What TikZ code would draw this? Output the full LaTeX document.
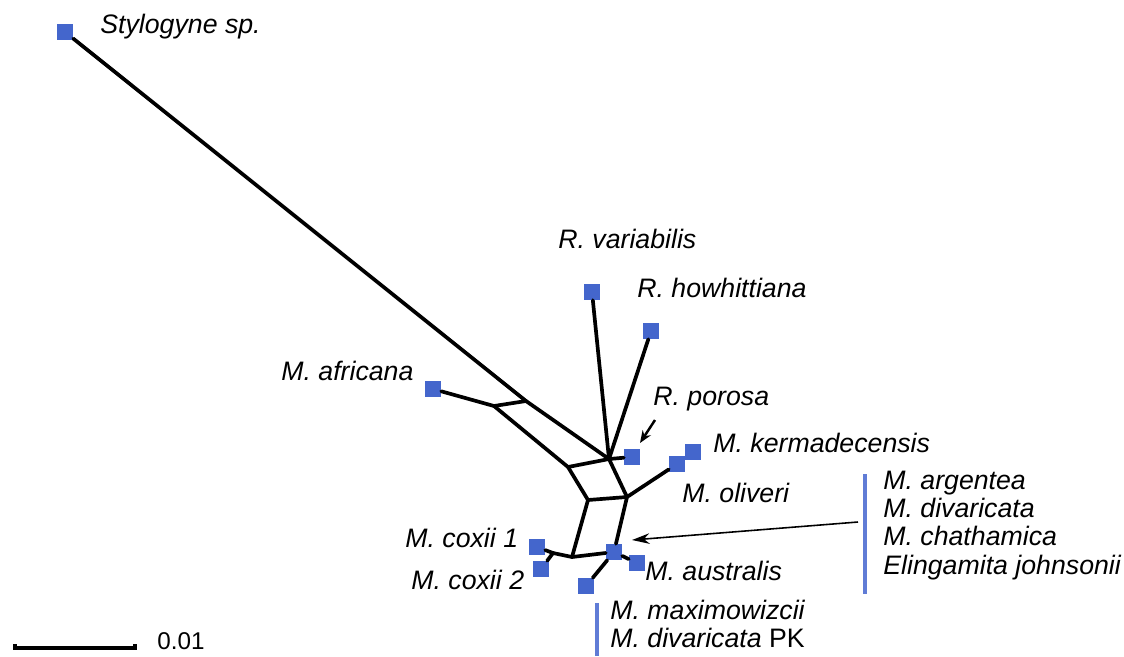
\documentclass[tikz,border=0pt]{standalone}
\usepackage{fontspec}
\setmainfont{Liberation Sans}
\usepackage{tikz}
\usetikzlibrary{positioning}
\usetikzlibrary{arrows.meta}
\definecolor{sqblue}{RGB}{68,102,204}
\definecolor{barblue}{RGB}{96,124,214}
\tikzset{leaf node/.style={rectangle,fill=sqblue,minimum size=9pt,inner sep=0pt},
  taxon/.style={font=\fontsize{15.2pt}{16pt}\selectfont\itshape,inner sep=0pt,anchor=base west},
  taxon group/.style={taxon,align=left,anchor=north west},
  split line/.style={draw,line width=2.1pt,line cap=round,line join=round},}

\begin{document}
\begin{tikzpicture}[x=0.02cm, y=-0.02cm, >={Stealth[length=10pt,width=6pt]}]
	\useasboundingbox (0,0) rectangle (1124,656);
	% taxa
	\node[leaf node] (sty) at (65,32) {};
	\node[leaf node] (afr) at (433,389) {};
	\node[leaf node] (var) at (592,292) {};
	\node[leaf node] (how) at (651,331) {};
	\node[leaf node] (por) at (632,457) {};
	\node[leaf node] (ker) at (693,452) {};
	\node[leaf node] (oli) at (677,464) {};
	\node[leaf node] (cox1) at (537,547) {};
	\node[leaf node] (cox2) at (541,569) {};
	\node[leaf node] (grp) at (614,552) {};
	\node[leaf node] (aus) at (637,563) {};
	\node[leaf node] (max) at (586,586) {};

	% splits
	\coordinate (s1) at (494,406);
	\coordinate (s2) at (526,401);
	\coordinate (s3) at (568,467);
	\coordinate (hub) at (609,459);
	\coordinate (s4) at (588,500);
	\coordinate (s5) at (627,497);
	\coordinate (s6) at (572,557);
	\coordinate (s7) at (553,553);

	\path[split line]
	(sty) edge (s2)
	(afr) edge (s1)
	(s1) edge (s2)
	(s1) edge (s3)
	(s2) edge (hub)
	(s3) edge (hub)
	(var) edge (hub)
	(how) edge (hub)
	(hub) edge (por)
	(s3) edge (s4)
	(hub) edge (s5)
	(s4) edge (s5)
	(s5) edge (oli)
	(s4) edge (s6)
	(s5) edge (grp)
	(s6) edge (grp)
	(cox1) edge (s7)
	(s7) edge (s6)
	(cox2) edge (s7)
	(grp) edge (aus)
	(grp) edge (max);

	% labels
	\node[taxon] (lsty) at (100,33) {Stylogyne sp.};
	\node[taxon] (lvar) at (558,248) {R. variabilis};
	\node[taxon] (lhow) at (637,297) {R. howhittiana};
	\node[taxon] (lafr) at (281,380) {M. africana};
	\node[taxon] (lpor) at (653,405) {R. porosa};
	\node[taxon] (lker) at (713,452) {M. kermadecensis};
	\node[taxon] (loli) at (682,502) {M. oliveri};
	\node[taxon] (lcox1) at (405,547) {M. coxii 1};
	\node[taxon] (lcox2) at (411,589) {M. coxii 2};
	\node[taxon] (laus) at (645,580) {M. australis};
	\node[taxon group] (lgrp) at (883,471) {M. argentea\\M. divaricata\\M. chathamica\\Elingamita johnsonii};
	\node[taxon group] (lmax) at (610,600) {M. maximowizcii\\M. divaricata {\upshape PK}};

	% brackets and pointers
	\draw[barblue,line width=1.9pt] (865,474) -- (865,594);
	\draw[barblue,line width=1.9pt] (597,603) -- (597,656);
	\coordinate (grptail) at (858,522);
	\coordinate (grptip) at (632,540);
	\draw[->,line width=0.9pt] (grptail) -- (grptip);
	\coordinate (portail) at (655,420);
	\coordinate (portip) at (640,443);
	\draw[-{Stealth[length=7pt,width=5.5pt]},line width=1.4pt] (portail) -- (portip);

	% scale bar
	\draw[line width=2pt] (15,644) -- (15,648) -- (135,648) -- (135,644);
	\node[inner sep=0pt,anchor=base west,font=\fontsize{13.8pt}{15pt}\selectfont] (lscale) at (157,649) {0.01};
\end{tikzpicture}
\end{document}
